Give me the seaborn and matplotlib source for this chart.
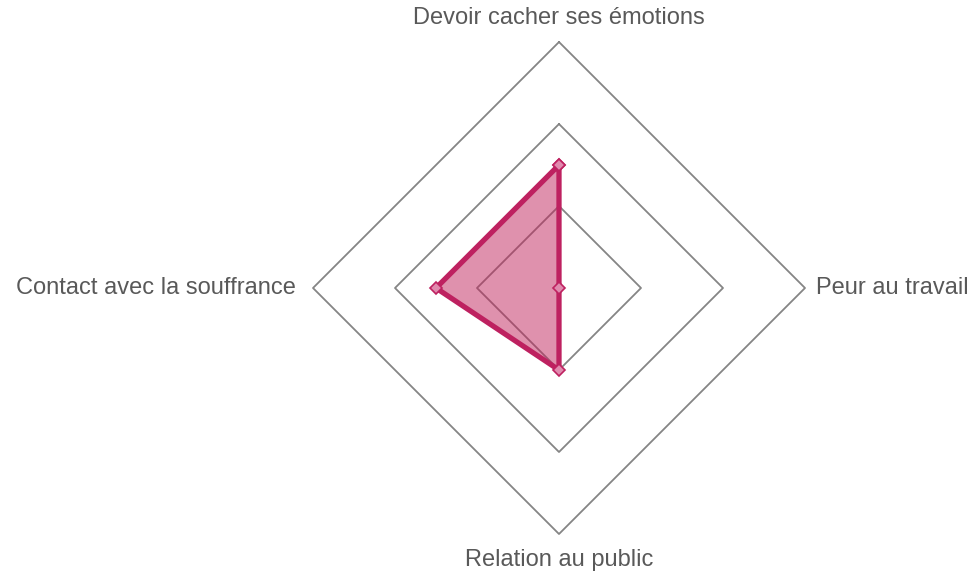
import numpy as np
import pandas as pd
import matplotlib.pyplot as plt
import seaborn as sns

# Radar chart data
categories = ['Devoir cacher ses émotions', 'Peur au travail',
              'Relation au public', 'Contact avec la souffrance']
values = [15, 0, 10, 15]
grid_levels = [10, 20, 30]
r_max = 30

sns.set_theme(style='white')
plt.rcParams['font.family'] = ['Liberation Sans', 'DejaVu Sans']

fig = plt.figure(figsize=(9.74, 5.73), dpi=100)
ax = fig.add_axes([0, 0, 1, 1])

# angles: top, right, bottom, left (clockwise from top)
angles = np.pi / 2 - np.arange(len(categories)) * 2 * np.pi / len(categories)
ca, sa = np.cos(angles), np.sin(angles)

# diamond grid
for lv in grid_levels:
    gx = np.append(lv * ca, lv * ca[0])
    gy = np.append(lv * sa, lv * sa[0])
    ax.plot(gx, gy, color='#858585', lw=1.3, zorder=1)

# data polygon
df = pd.DataFrame({'x': np.array(values) * ca, 'y': np.array(values) * sa})
closed = pd.concat([df, df.iloc[:1]], ignore_index=True)
ax.fill(closed['x'], closed['y'], color='#C0245C', alpha=0.5, lw=0, zorder=2)
sns.lineplot(data=closed, x='x', y='y', sort=False, estimator=None, ax=ax,
             color='#BE2160', lw=3.8, marker='D', markersize=6,
             markerfacecolor='#E08AAE', markeredgecolor='#BE2160',
             markeredgewidth=1.2, zorder=3)

# category labels
fs = 17
col = '#595959'
ax.text(0, r_max + 2.9, categories[0], ha='center', va='center',
        fontsize=fs, color=col)
ax.text(r_max + 1.3, 0, categories[1], ha='left', va='center',
        fontsize=fs, color=col)
ax.text(0, -(r_max + 3.2), categories[2], ha='center', va='center',
        fontsize=fs, color=col)
ax.text(-(r_max + 2.1), 0, categories[3], ha='right', va='center',
        fontsize=fs, color=col)

# map data units to the reference layout: centre at (559, 288) px, r_max -> 246 px
ppu = 246 / r_max
ax.set_xlim(-559 / ppu, (974 - 559) / ppu)
ax.set_ylim(-(573 - 288) / ppu, 288 / ppu)
ax.set_axis_off()

fig.savefig('out.png', dpi=100)
